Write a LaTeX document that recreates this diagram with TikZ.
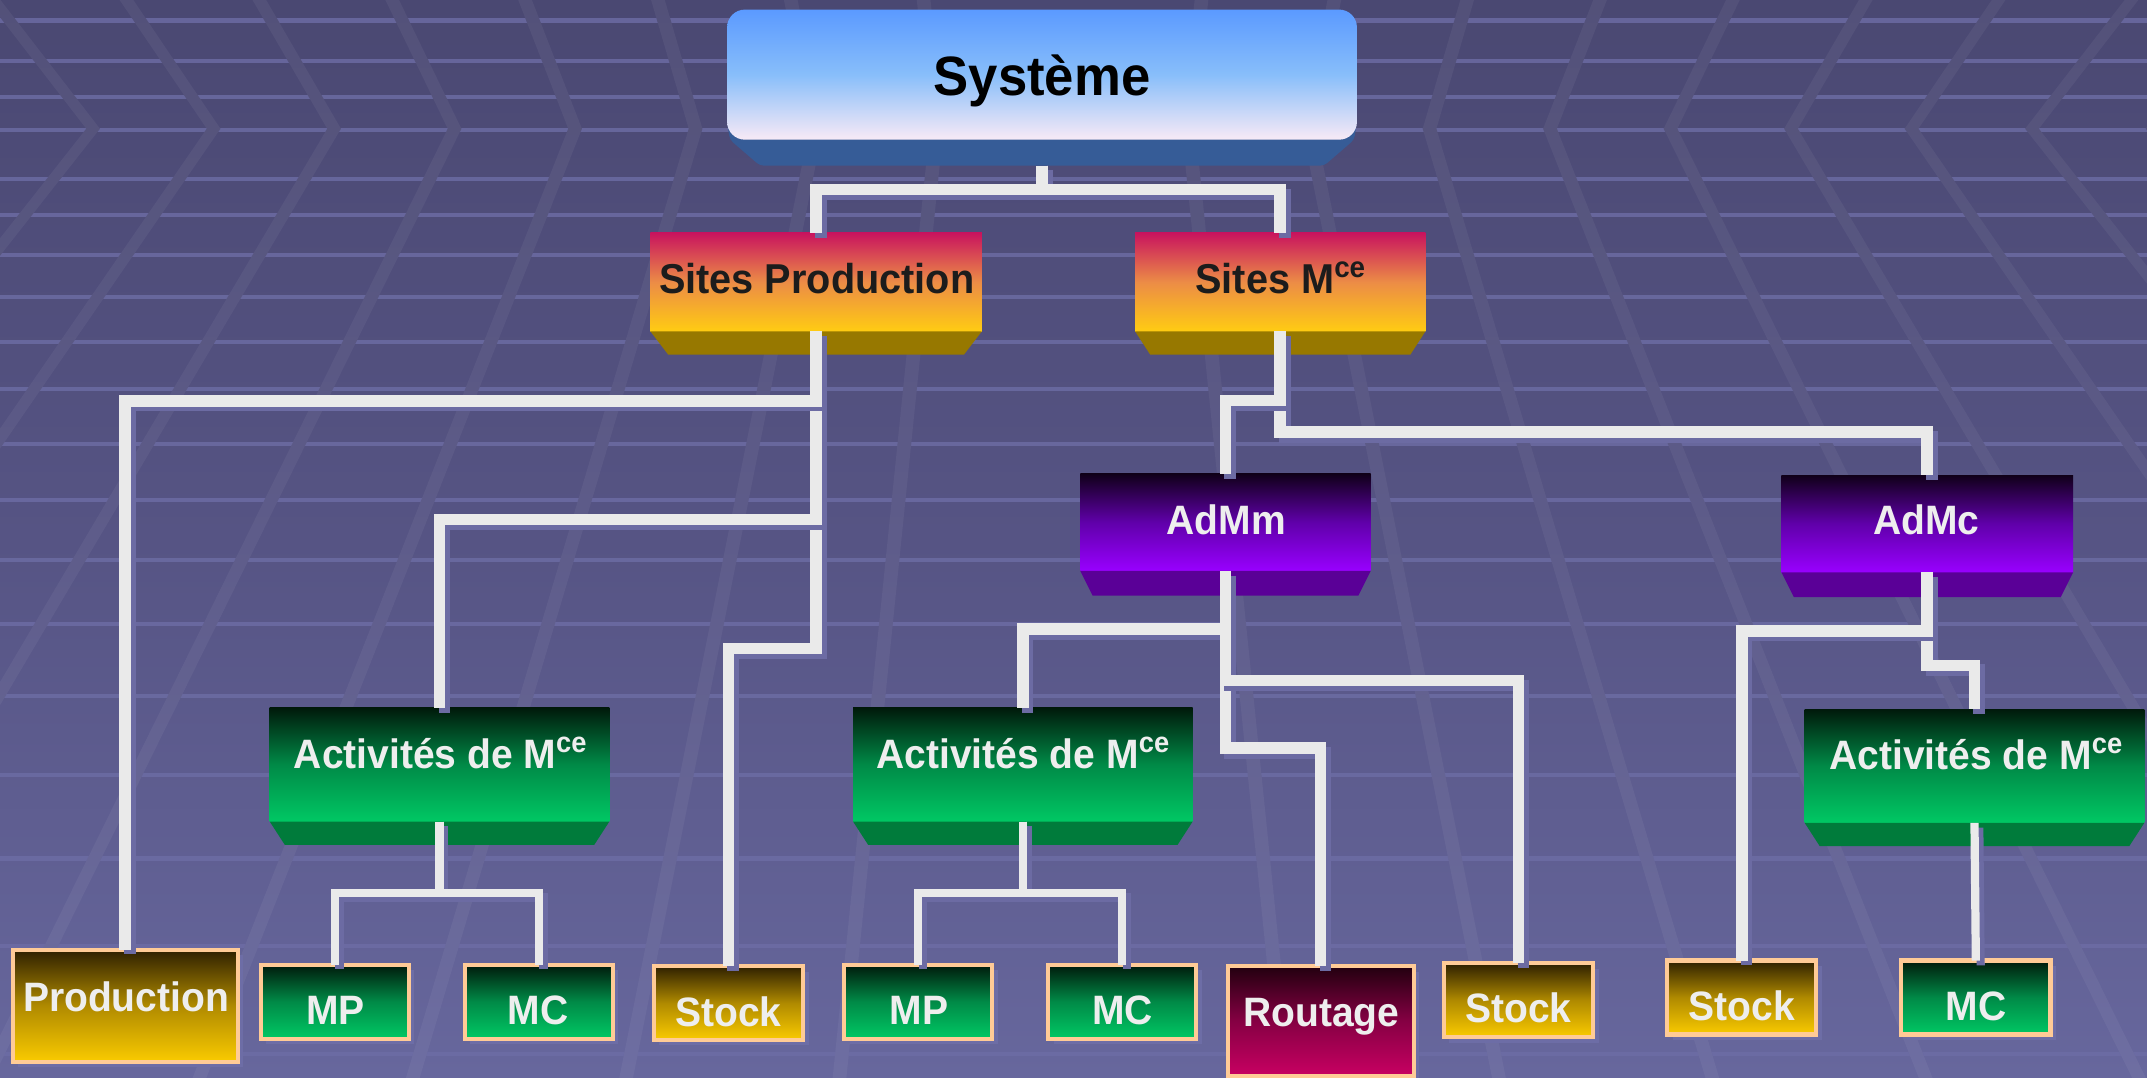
\documentclass[tikz,border=0pt]{standalone}
\usepackage{fontspec}
\newfontfamily\labfont{Liberation Sans}[FakeStretch=0.95]
\usetikzlibrary{calc,shadows}
\definecolor{bgA}{HTML}{4A4872}
\definecolor{bgB}{HTML}{565484}
\definecolor{bgC}{HTML}{67679D}
\definecolor{hline}{HTML}{6D6DA5}
\definecolor{sysA}{HTML}{5B9AFF}
\definecolor{sysB}{HTML}{88BEFA}
\definecolor{sysC}{HTML}{F8EAF6}
\definecolor{sysBev}{HTML}{365C97}
\definecolor{siA}{HTML}{C8135E}
\definecolor{siB}{HTML}{EC8C46}
\definecolor{siC}{HTML}{FFCC12}
\definecolor{siBev}{HTML}{977800}
\definecolor{adA}{HTML}{100018}
\definecolor{adB}{HTML}{6000AA}
\definecolor{adC}{HTML}{9900FF}
\definecolor{adBev}{HTML}{5A0097}
\definecolor{gA}{HTML}{001A0B}
\definecolor{gB}{HTML}{008A47}
\definecolor{gC}{HTML}{00C864}
\definecolor{gBev}{HTML}{007B3B}
\definecolor{yA}{HTML}{2E2000}
\definecolor{yB}{HTML}{B08A00}
\definecolor{yC}{HTML}{FACB00}
\definecolor{mA}{HTML}{22000F}
\definecolor{mB}{HTML}{850043}
\definecolor{mC}{HTML}{C80062}
\definecolor{peach}{HTML}{FFCB96}
\definecolor{leafshad}{HTML}{6D6DA6}
\definecolor{wirecol}{HTML}{EAEAEA}
\definecolor{shadcol}{HTML}{6C6BA3}
\definecolor{labcol}{HTML}{EEEEEE}
\definecolor{darktxt}{HTML}{1C1C1C}
\newcommand\supce{\raisebox{0.38em}{\scalebox{0.7}{ce}}}
\newcommand\cnx[2][8.5]{\draw[wshadow=#1] #2; \draw[wire=#1] #2;}
\newcommand\bevelbox[4]{\fill[#4] (#1.south west) -- (#1.south east) -- ($(#1.south east)+(-#2,#3)$) -- ($(#1.south west)+(#2,#3)$) -- cycle;}
\begin{document}
\begin{tikzpicture}[x=1pt,y=-1pt,
  face/.style={rectangle,inner sep=0pt,outer sep=0pt},
  sitesc/.style={top color=siA,bottom color=siC,middle color=siB},
  adsc/.style={top color=adA,bottom color=adC,middle color=adB},
  actsc/.style={top color=gA,bottom color=gC,middle color=gB},
  leaf/.style={rectangle,inner sep=0pt,outer sep=0pt,draw=peach,line width=3pt,
    general shadow={fill=leafshad,shadow xshift=4pt,shadow yshift=-4pt}},
  ylw/.style={top color=yA,bottom color=yC,middle color=yB},
  grn/.style={top color=gA,bottom color=gC,middle color=gB},
  mag/.style={top color=mA,bottom color=mC,middle color=mB},
  txt/.style={inner sep=0pt,anchor=base,text=labcol,font={\labfont\bfseries\fontsize{30}{34}\selectfont}},
  wire/.style={line width=#1,draw=wirecol,line join=miter,line cap=butt},
  wshadow/.style={line width=#1,draw=shadcol,line join=miter,line cap=butt,transform canvas={shift={(3.5,3.5)}}}
]
\useasboundingbox (0,0) rectangle (1568,787);
% background
\shade[top color=bgA,bottom color=bgC,middle color=bgB] (0,0) rectangle (1568,787);
\foreach \yy in {15,44.5,70.6,95,130.7,157,186,217,249.5,284,324,365,409,456,508,566,627,691,770}
  \fill[hline,opacity=0.8] (0,{\yy-1.5}) rectangle (1568,{\yy+1.5});
\begin{scope}
  \clip \foreach \d in {-796,-708,-620,-532,-444,-356,-268,-180,-92,92,180,268,356,444,532,620,708,796}
    { ({776+1.1048*\d-5},-2) -- ({776+1.1048*\d+5},-2) -- ({776+\d+5},94) -- ({776+1.7726*\d+5},789) -- ({776+1.7726*\d-5},789) -- ({776+\d-5},94) -- cycle };
  \shade[top color=bgA,bottom color=bgC,middle color=bgB] (0,0) rectangle (1568,787);
  \fill[white,opacity=0.05] (0,0) rectangle (1568,787);
\end{scope}

% Systeme box
\node[face,minimum width=460pt,minimum height=95pt] (sys) at (761,54.5) {};
\fill[sysBev,rounded corners=3pt] ($(sys.south west)+(0,-13)$) -- ($(sys.south east)+(0,-13)$) -- ($(sys.south east)+(-2,0)$) -- ($(sys.south east)+(-24,19)$) -- ($(sys.south west)+(24,19)$) -- ($(sys.south west)+(2,0)$) -- cycle;
\shade[rounded corners=13pt,top color=sysA,bottom color=sysC,middle color=sysB] (sys.north west) rectangle (sys.south east);
\coordinate (sysB) at ($(sys.south)+(0,19)$);

% level 2
\node[face,sitesc,minimum width=242pt,minimum height=72pt] (sp) at (596,206) {};
\bevelbox{sp}{13}{17}{siBev}
\node[face,sitesc,minimum width=212pt,minimum height=72pt] (sm) at (935,206) {};
\bevelbox{sm}{11}{17}{siBev}

% level 3
\node[face,adsc,minimum width=212pt,minimum height=71pt] (admm) at (895,381.5) {};
\bevelbox{admm}{9}{18}{adBev}
\node[face,adsc,minimum width=213pt,minimum height=71pt] (admc) at (1407.5,382.5) {};
\bevelbox{admc}{9}{18}{adBev}

% activites
\node[face,actsc,minimum width=248pt,minimum height=83pt] (act1) at (321,558.5) {};
\bevelbox{act1}{11}{17}{gBev}
\node[face,actsc,minimum width=248pt,minimum height=83pt] (act2) at (747,558.5) {};
\bevelbox{act2}{11}{17}{gBev}
\node[face,actsc,minimum width=248pt,minimum height=83pt] (act3) at (1442,559.5) {};
\bevelbox{act3}{11}{17}{gBev}

% leaves
\node[leaf,ylw,minimum width=164pt,minimum height=82pt] (prod) at (91.5,734.5) {};
\node[leaf,grn,minimum width=108pt,minimum height=54pt] (mp1) at (244.5,731.5) {};
\node[leaf,grn,minimum width=108pt,minimum height=54pt] (mc1) at (393.5,731.5) {};
\node[leaf,ylw,minimum width=109pt,minimum height=54pt] (st1) at (532,732.5) {};
\node[leaf,grn,minimum width=108pt,minimum height=54pt] (mp2) at (670.5,731.5) {};
\node[leaf,grn,minimum width=108pt,minimum height=54pt] (mc2) at (819.5,731.5) {};
\node[leaf,mag,minimum width=136pt,minimum height=80pt] (rout) at (964.5,745.5) {};
\node[leaf,ylw,minimum width=109pt,minimum height=54pt] (st2) at (1109,730.5) {};
\node[leaf,ylw,minimum width=109pt,minimum height=54pt] (st3) at (1272,728.5) {};
\node[leaf,grn,minimum width=109pt,minimum height=54pt] (mc3) at (1443,728.5) {};

% connectors
\cnx{(sysB) -- ++(0,17.5) -| (sp.north)}
\cnx{(sysB) -- ++(0,17.5) -| (sm.north)}
\cnx{(sp.south) -- ++(0,231.5) -| (st1.north)}
\cnx{(sp.south) -- ++(0,137.3) -| (act1.north)}
\cnx{(sp.south) -- ++(0,50.7) -| (prod.north)}
\cnx{(sm.south) -- ++(0,73.6) -| (admc.north)}
\cnx{(sm.south) -- ++(0,50.5) -| (admm.north)}
\cnx{(admm.south) -- ++(0,42.4) -| (act2.north)}
\cnx{(admm.south) -- ++(0,129.5) -| (rout.north)}
\cnx{(admm.south) -- ++(0,80) -| (st2.north)}
\cnx{(admc.south) -- ++(0,68) -| (act3.north)}
\cnx{(admc.south) -- ++(0,42.7) -| (st3.north)}
\cnx[6]{(act1.south) -- ++(0,52) -| (mp1.north)}
\cnx[6]{(act1.south) -- ++(0,52) -| (mc1.north)}
\cnx[6]{(act2.south) -- ++(0,52) -| (mp2.north)}
\cnx[6]{(act2.south) -- ++(0,52) -| (mc2.north)}
\cnx[6]{(act3.south) -- (mc3.north)}

% texts
\node[txt,text=black,font={\labfont\bfseries\fontsize{40.5}{44}\selectfont}] (sysT) at (761,69.4) {Système};
\node[txt,text=darktxt,font={\labfont\bfseries\fontsize{30.5}{34}\selectfont}] (spT) at (596.5,214) {Sites Production};
\node[txt,text=darktxt,font={\labfont\bfseries\fontsize{30.5}{34}\selectfont}] (smT) at (935,214) {Sites M\supce};
\node[txt] (admmT) at (895.5,390) {AdMm};
\node[txt] (admcT) at (1407,390.5) {AdMc};
\node[txt] (act1T) at (321.5,561) {Activités de M\supce};
\node[txt] (act2T) at (747,561) {Activités de M\supce};
\node[txt] (act3T) at (1443,562) {Activités de M\supce};
\node[txt] (prodT) at (92,738.8) {Production};
\node[txt] (mp1T) at (245,748.5) {MP};
\node[txt] (mc1T) at (393,748.5) {MC};
\node[txt] (st1T) at (532,749.5) {Stock};
\node[txt] (mp2T) at (671,748.5) {MP};
\node[txt] (mc2T) at (820,748.5) {MC};
\node[txt] (routT) at (965,749.3) {Routage};
\node[txt] (st2T) at (1109,747) {Stock};
\node[txt] (st3T) at (1272,745.4) {Stock};
\node[txt] (mc3T) at (1443,745.4) {MC};
\end{tikzpicture}
\end{document}
